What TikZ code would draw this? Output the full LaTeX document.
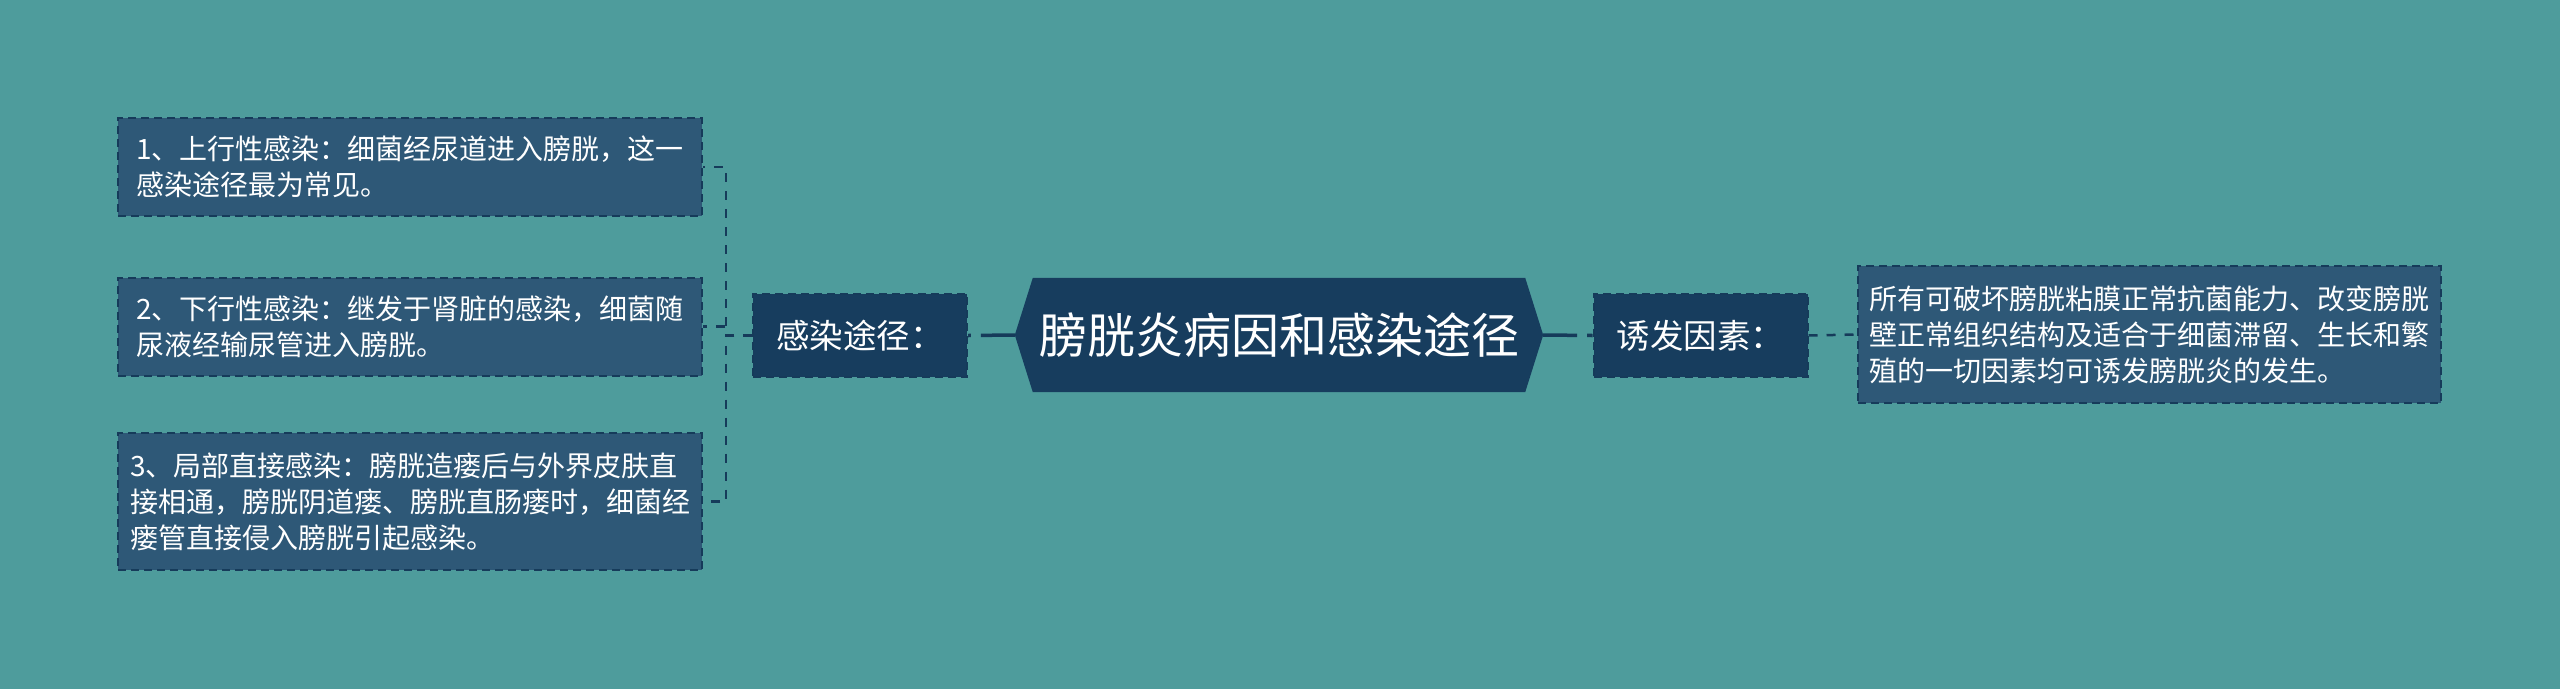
\documentclass[tikz,border=0pt]{standalone}
\usepackage{fontspec}
\setmainfont{Noto Sans CJK SC}
\usetikzlibrary{backgrounds}
\definecolor{bgteal}{HTML}{4E9C9C}
\definecolor{leaffill}{HTML}{2E5877}
\definecolor{darkfill}{HTML}{173D5E}
\definecolor{linecol}{HTML}{163B5A}
\begin{document}
\begin{tikzpicture}[
    x=1pt, y=-1pt,
    leafbox/.style = {draw=linecol, fill=leaffill, line width=2pt, dash pattern=on 8pt off 5pt,
      text=white, align=left, minimum width=584pt, inner xsep=10pt,
      font=\fontsize{28}{36}\selectfont},
    midbox/.style = {draw=linecol, fill=darkfill, line width=2pt, dash pattern=on 8pt off 5pt,
      text=white, minimum width=214pt, minimum height=83pt,
      font=\fontsize{33.5}{38}\selectfont},
    rootbox/.style = {text=white, minimum width=528pt, minimum height=114pt, inner sep=0pt,
      font=\fontsize{48}{54}\selectfont},
    trunk/.style = {draw=linecol, line width=3.5pt, dash pattern=on 34pt off 10pt},
    twig/.style = {draw=linecol, line width=2.5pt, dash pattern=on 9pt off 9pt},
  ]
  \node[rootbox] (root) at (1279,335) {膀胱炎病因和感染途径};
  \node[midbox] (route) at (860,335.5) {感染途径：};
  \node[midbox] (cause) at (1700.5,335.5) {诱发因素：};
  \node[leafbox, minimum height=98pt] (up) at (410,167) {1、上行性感染：细菌经尿道进入膀胱，这一\\感染途径最为常见。};
  \node[leafbox, minimum height=98pt] (down) at (410,326.5) {2、下行性感染：继发于肾脏的感染，细菌随\\尿液经输尿管进入膀胱。};
  \node[leafbox, minimum height=137pt] (local) at (410,501.5) {3、局部直接感染：膀胱造瘘后与外界皮肤直\\接相通，膀胱阴道瘘、膀胱直肠瘘时，细菌经\\瘘管直接侵入膀胱引起感染。};
  \node[leafbox, minimum width=583pt, minimum height=137pt] (desc) at (2149.5,334.5) {所有可破坏膀胱粘膜正常抗菌能力、改变膀胱\\壁正常组织结构及适合于细菌滞留、生长和繁\\殖的一切因素均可诱发膀胱炎的发生。};
  \begin{scope}[on background layer]
    \fill[bgteal] (0,0) rectangle (2560,689);
    \fill[darkfill] (root.west) -- ([xshift=18pt]root.north west) -- ([xshift=-18pt]root.north east)
      -- (root.east) -- ([xshift=-18pt]root.south east) -- ([xshift=18pt]root.south west) -- cycle;
  \end{scope}
  \draw[trunk] (root.west) -- (route.east);
  \draw[trunk] (root.east) -- (cause.west);
  \draw[twig] (cause.east) -- (desc.west);
  \foreach \leaf in {up, down, local}
    \draw[twig] (route.west) -- ++(-26,0) |- (\leaf.east);
\end{tikzpicture}
\end{document}
